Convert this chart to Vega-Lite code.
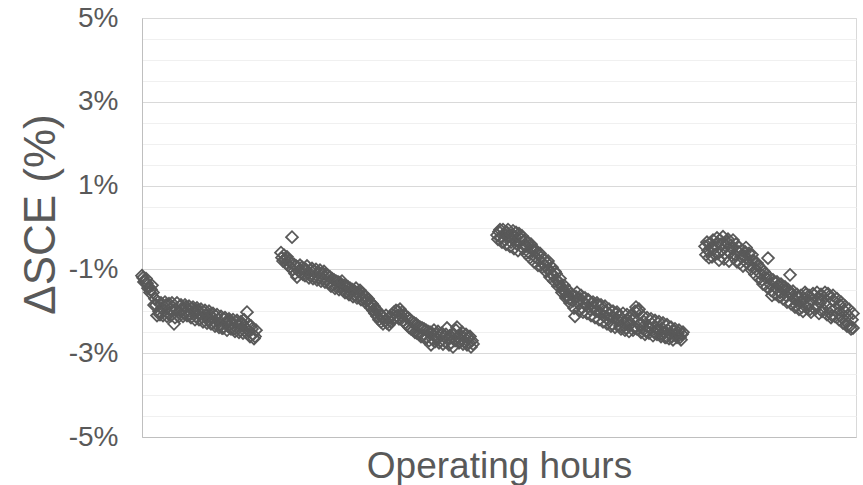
{
  "$schema": "https://vega.github.io/schema/vega-lite/v6.json",
  "autosize": "none",
  "width": 714,
  "height": 419,
  "padding": {"left": 142, "top": 18, "right": 7, "bottom": 48},
  "background": "white",
  "config": {"view": {"stroke": "#d9d9d9"}, "font": "Liberation Sans"},
  "data": {"values": [
    {"h":0,"v":-1.15},{"h":1,"v":-1.2},{"h":3,"v":-1.28},{"h":5,"v":-1.33},{"h":7,"v":-1.42},{"h":9,"v":-1.48},{"h":11,"v":-1.55},{"h":13,"v":-1.7},{"h":14,"v":-1.85},{"h":16,"v":-1.78},{"h":17,"v":-2.0},{"h":18,"v":-2.08},{"h":20,"v":-1.92},{"h":22,"v":-1.98},{"h":24,"v":-1.85},{"h":26,"v":-2.05},{"h":28,"v":-1.95},{"h":30,"v":-1.8},{"h":32,"v":-2.3},{"h":34,"v":-1.95},{"h":36,"v":-2.02},{"h":38,"v":-1.88},{"h":40,"v":-1.98},{"h":42,"v":-2.05},{"h":44,"v":-1.9},{"h":46,"v":-1.97},{"h":48,"v":-2.08},{"h":50,"v":-1.93},{"h":52,"v":-2.0},{"h":54,"v":-2.12},{"h":56,"v":-1.98},{"h":58,"v":-2.05},{"h":60,"v":-2.15},{"h":62,"v":-2.02},{"h":64,"v":-2.1},{"h":66,"v":-2.2},{"h":68,"v":-2.08},{"h":70,"v":-2.15},{"h":72,"v":-2.25},{"h":74,"v":-2.12},{"h":76,"v":-2.2},{"h":78,"v":-2.3},{"h":80,"v":-2.4},{"h":82,"v":-2.18},{"h":84,"v":-2.28},{"h":86,"v":-2.35},{"h":88,"v":-2.22},{"h":90,"v":-2.3},{"h":92,"v":-2.42},{"h":94,"v":-2.25},{"h":96,"v":-2.33},{"h":98,"v":-2.45},{"h":100,"v":-2.3},{"h":103,"v":-2.38},{"h":105,"v":-2.02},{"h":107,"v":-2.48},{"h":109,"v":-2.35},{"h":111,"v":-2.55},{"h":113,"v":-2.6},{"h":114,"v":-2.45},
    {"h":2,"v":-1.3},{"h":4,"v":-1.22},{"h":6,"v":-1.45},{"h":8,"v":-1.55},{"h":10,"v":-1.38},{"h":12,"v":-1.85},{"h":15,"v":-2.1},{"h":19,"v":-1.8},{"h":21,"v":-2.1},{"h":23,"v":-1.78},{"h":25,"v":-2.12},{"h":27,"v":-1.82},{"h":29,"v":-2.1},{"h":31,"v":-1.9},{"h":33,"v":-2.15},{"h":35,"v":-1.8},{"h":37,"v":-2.12},{"h":39,"v":-1.85},{"h":41,"v":-2.12},{"h":43,"v":-1.85},{"h":45,"v":-2.1},{"h":47,"v":-1.88},{"h":49,"v":-2.15},{"h":51,"v":-1.9},{"h":53,"v":-2.2},{"h":55,"v":-1.92},{"h":57,"v":-2.2},{"h":59,"v":-1.95},{"h":61,"v":-2.25},{"h":63,"v":-1.98},{"h":65,"v":-2.28},{"h":67,"v":-2.0},{"h":69,"v":-2.3},{"h":71,"v":-2.05},{"h":73,"v":-2.35},{"h":75,"v":-2.08},{"h":77,"v":-2.38},{"h":79,"v":-2.12},{"h":81,"v":-2.4},{"h":83,"v":-2.15},{"h":85,"v":-2.45},{"h":87,"v":-2.18},{"h":89,"v":-2.42},{"h":91,"v":-2.2},{"h":93,"v":-2.48},{"h":95,"v":-2.22},{"h":97,"v":-2.5},{"h":99,"v":-2.25},{"h":101,"v":-2.52},{"h":102,"v":-2.2},{"h":104,"v":-2.5},{"h":106,"v":-2.3},{"h":108,"v":-2.6},{"h":110,"v":-2.42},{"h":112,"v":-2.65},
    {"h":139,"v":-0.6},{"h":140,"v":-0.72},{"h":141,"v":-0.8},{"h":142,"v":-0.66},{"h":143,"v":-0.75},{"h":144,"v":-0.85},{"h":145,"v":-0.7},{"h":146,"v":-0.9},{"h":147,"v":-0.78},{"h":148,"v":-0.95},{"h":149,"v":-0.85},{"h":150,"v":-0.23},{"h":151,"v":-1.0},{"h":152,"v":-0.88},{"h":153,"v":-1.1},{"h":154,"v":-0.92},{"h":155,"v":-1.18},{"h":156,"v":-0.95},{"h":157,"v":-1.05},{"h":158,"v":-0.9},{"h":159,"v":-1.08},{"h":160,"v":-0.95},{"h":161,"v":-1.12},{"h":162,"v":-0.98},{"h":163,"v":-1.15},{"h":164,"v":-1.0},{"h":165,"v":-0.92},{"h":166,"v":-1.1},{"h":167,"v":-1.2},{"h":168,"v":-1.02},{"h":169,"v":-1.15},{"h":170,"v":-0.98},{"h":171,"v":-1.22},{"h":172,"v":-1.05},{"h":173,"v":-1.18},{"h":174,"v":-1.0},{"h":175,"v":-1.25},{"h":176,"v":-1.08},{"h":177,"v":-1.2},{"h":178,"v":-1.02},{"h":179,"v":-1.28},{"h":180,"v":-1.1},{"h":181,"v":-1.22},{"h":182,"v":-1.05},{"h":183,"v":-1.3},{"h":184,"v":-1.12},{"h":185,"v":-1.25},{"h":186,"v":-1.15},{"h":187,"v":-1.32},{"h":188,"v":-1.18},{"h":189,"v":-1.4},{"h":190,"v":-1.22},{"h":191,"v":-1.35},{"h":192,"v":-1.25},{"h":193,"v":-1.45},{"h":194,"v":-1.28},{"h":195,"v":-1.38},{"h":196,"v":-1.3},{"h":197,"v":-1.48},{"h":198,"v":-1.32},{"h":199,"v":-1.42},{"h":200,"v":-1.28},{"h":201,"v":-1.5},{"h":202,"v":-1.38},{"h":203,"v":-1.55},{"h":204,"v":-1.4},{"h":205,"v":-1.52},{"h":206,"v":-1.42},{"h":207,"v":-1.6},{"h":208,"v":-1.45},{"h":209,"v":-1.55},{"h":210,"v":-1.48},{"h":211,"v":-1.65},{"h":212,"v":-1.5},{"h":213,"v":-1.6},{"h":214,"v":-1.45},{"h":215,"v":-1.68},{"h":216,"v":-1.55},{"h":217,"v":-1.62},{"h":218,"v":-1.5},{"h":219,"v":-1.72},{"h":220,"v":-1.58},{"h":221,"v":-1.68},{"h":222,"v":-1.62},{"h":223,"v":-1.78},{"h":224,"v":-1.65},{"h":225,"v":-1.75},{"h":226,"v":-1.7},{"h":227,"v":-1.85},{"h":228,"v":-1.78},{"h":229,"v":-1.92},{"h":230,"v":-1.82},{"h":231,"v":-1.98},{"h":232,"v":-1.88},{"h":233,"v":-2.05},{"h":234,"v":-1.95},{"h":235,"v":-2.12},{"h":236,"v":-2.0},{"h":237,"v":-2.2},{"h":238,"v":-2.08},{"h":239,"v":-2.25},{"h":240,"v":-2.12},{"h":241,"v":-2.3},{"h":242,"v":-2.15},{"h":243,"v":-2.22},{"h":244,"v":-2.1},{"h":245,"v":-2.28},{"h":246,"v":-2.18},{"h":247,"v":-2.32},{"h":248,"v":-2.15},{"h":249,"v":-2.25},{"h":250,"v":-2.08},{"h":251,"v":-2.2},{"h":252,"v":-2.02},{"h":253,"v":-2.15},{"h":254,"v":-1.98},{"h":255,"v":-2.12},{"h":256,"v":-2.0},{"h":257,"v":-2.18},{"h":258,"v":-1.95},{"h":259,"v":-2.1},{"h":260,"v":-2.02},{"h":261,"v":-2.22},{"h":262,"v":-2.08},{"h":263,"v":-2.28},{"h":264,"v":-2.12},{"h":265,"v":-2.32},{"h":266,"v":-2.15},{"h":267,"v":-2.38},{"h":268,"v":-2.2},{"h":269,"v":-2.42},{"h":270,"v":-2.25},{"h":271,"v":-2.45},{"h":272,"v":-2.28},{"h":273,"v":-2.5},{"h":274,"v":-2.3},{"h":275,"v":-2.52},{"h":276,"v":-2.35},{"h":277,"v":-2.55},{"h":278,"v":-2.38},{"h":279,"v":-2.6},{"h":280,"v":-2.4},{"h":281,"v":-2.58},{"h":282,"v":-2.42},{"h":283,"v":-2.65},{"h":284,"v":-2.45},{"h":285,"v":-2.62},{"h":286,"v":-2.48},{"h":287,"v":-2.7},{"h":288,"v":-2.5},{"h":289,"v":-2.8},{"h":290,"v":-2.52},{"h":291,"v":-2.68},{"h":292,"v":-2.45},{"h":293,"v":-2.72},{"h":294,"v":-2.55},{"h":295,"v":-2.65},{"h":296,"v":-2.48},{"h":297,"v":-2.75},{"h":298,"v":-2.58},{"h":299,"v":-2.7},{"h":300,"v":-2.52},{"h":301,"v":-2.78},{"h":302,"v":-2.6},{"h":303,"v":-2.72},{"h":304,"v":-2.55},{"h":305,"v":-2.4},{"h":306,"v":-2.62},{"h":307,"v":-2.8},{"h":308,"v":-2.58},{"h":309,"v":-2.75},{"h":310,"v":-2.62},{"h":311,"v":-2.85},{"h":312,"v":-2.55},{"h":313,"v":-2.7},{"h":314,"v":-2.45},{"h":315,"v":-2.38},{"h":316,"v":-2.6},{"h":317,"v":-2.75},{"h":318,"v":-2.58},{"h":319,"v":-2.68},{"h":320,"v":-2.5},{"h":321,"v":-2.78},{"h":322,"v":-2.62},{"h":323,"v":-2.72},{"h":324,"v":-2.55},{"h":325,"v":-2.8},{"h":326,"v":-2.65},{"h":327,"v":-2.75},{"h":328,"v":-2.6},{"h":329,"v":-2.85},{"h":330,"v":-2.7},{"h":331,"v":-2.78},
    {"h":355,"v":-0.18},{"h":357,"v":-0.1},{"h":359,"v":-0.25},{"h":361,"v":-0.05},{"h":363,"v":-0.3},{"h":365,"v":-0.12},{"h":367,"v":-0.2},{"h":369,"v":-0.35},{"h":371,"v":-0.08},{"h":373,"v":-0.22},{"h":375,"v":-0.4},{"h":377,"v":-0.15},{"h":379,"v":-0.28},{"h":381,"v":-0.5},{"h":383,"v":-0.32},{"h":385,"v":-0.45},{"h":387,"v":-0.6},{"h":389,"v":-0.4},{"h":391,"v":-0.55},{"h":393,"v":-0.7},{"h":395,"v":-0.62},{"h":397,"v":-0.78},{"h":399,"v":-0.7},{"h":401,"v":-0.85},{"h":403,"v":-0.92},{"h":405,"v":-0.85},{"h":407,"v":-1.0},{"h":409,"v":-1.08},{"h":411,"v":-1.15},{"h":413,"v":-1.05},{"h":415,"v":-1.25},{"h":417,"v":-1.32},{"h":419,"v":-1.4},{"h":421,"v":-1.48},{"h":423,"v":-1.55},{"h":425,"v":-1.62},{"h":427,"v":-1.7},{"h":429,"v":-1.58},{"h":431,"v":-1.75},{"h":433,"v":-2.12},{"h":434,"v":-1.65},{"h":436,"v":-1.8},{"h":438,"v":-1.7},{"h":440,"v":-1.92},{"h":442,"v":-1.78},{"h":444,"v":-1.85},{"h":446,"v":-1.72},{"h":448,"v":-1.95},{"h":450,"v":-1.82},{"h":452,"v":-1.9},{"h":454,"v":-2.0},{"h":456,"v":-1.85},{"h":458,"v":-2.05},{"h":460,"v":-1.95},{"h":462,"v":-2.12},{"h":464,"v":-2.0},{"h":466,"v":-2.2},{"h":468,"v":-2.08},{"h":470,"v":-2.3},{"h":472,"v":-2.15},{"h":474,"v":-2.05},{"h":476,"v":-2.22},{"h":478,"v":-2.35},{"h":480,"v":-2.18},{"h":482,"v":-2.28},{"h":484,"v":-2.4},{"h":486,"v":-2.22},{"h":488,"v":-2.32},{"h":490,"v":-2.2},{"h":492,"v":-2.38},{"h":494,"v":-1.9},{"h":496,"v":-2.0},{"h":498,"v":-2.3},{"h":500,"v":-2.4},{"h":502,"v":-2.25},{"h":504,"v":-2.48},{"h":506,"v":-2.35},{"h":508,"v":-2.42},{"h":510,"v":-2.3},{"h":512,"v":-2.5},{"h":514,"v":-2.38},{"h":516,"v":-2.45},{"h":518,"v":-2.55},{"h":520,"v":-2.4},{"h":522,"v":-2.5},{"h":524,"v":-2.62},{"h":526,"v":-2.45},{"h":528,"v":-2.55},{"h":530,"v":-2.6},{"h":532,"v":-2.48},{"h":534,"v":-2.58},{"h":536,"v":-2.52},{"h":538,"v":-2.62},{"h":540,"v":-2.55},
    {"h":356,"v":-0.28},{"h":358,"v":-0.05},{"h":360,"v":-0.35},{"h":362,"v":-0.15},{"h":364,"v":-0.4},{"h":366,"v":-0.05},{"h":368,"v":-0.45},{"h":370,"v":-0.18},{"h":372,"v":-0.5},{"h":374,"v":-0.12},{"h":376,"v":-0.55},{"h":378,"v":-0.25},{"h":380,"v":-0.2},{"h":382,"v":-0.42},{"h":384,"v":-0.62},{"h":386,"v":-0.35},{"h":388,"v":-0.72},{"h":390,"v":-0.48},{"h":392,"v":-0.82},{"h":394,"v":-0.55},{"h":396,"v":-0.9},{"h":398,"v":-0.62},{"h":400,"v":-0.95},{"h":402,"v":-0.75},{"h":404,"v":-1.05},{"h":406,"v":-0.8},{"h":408,"v":-1.18},{"h":410,"v":-0.95},{"h":412,"v":-1.28},{"h":414,"v":-1.1},{"h":416,"v":-1.4},{"h":418,"v":-1.22},{"h":420,"v":-1.55},{"h":422,"v":-1.38},{"h":424,"v":-1.68},{"h":426,"v":-1.5},{"h":428,"v":-1.8},{"h":430,"v":-1.62},{"h":432,"v":-1.92},{"h":435,"v":-1.55},{"h":437,"v":-1.98},{"h":439,"v":-1.62},{"h":441,"v":-2.02},{"h":443,"v":-1.68},{"h":445,"v":-2.05},{"h":447,"v":-1.75},{"h":449,"v":-2.1},{"h":451,"v":-1.78},{"h":453,"v":-2.15},{"h":455,"v":-1.8},{"h":457,"v":-2.2},{"h":459,"v":-1.85},{"h":461,"v":-2.25},{"h":463,"v":-1.88},{"h":465,"v":-2.3},{"h":467,"v":-1.95},{"h":469,"v":-2.35},{"h":471,"v":-2.0},{"h":473,"v":-2.38},{"h":475,"v":-2.02},{"h":477,"v":-2.1},{"h":479,"v":-2.42},{"h":481,"v":-2.05},{"h":483,"v":-2.45},{"h":485,"v":-2.08},{"h":487,"v":-2.48},{"h":489,"v":-2.1},{"h":491,"v":-2.45},{"h":493,"v":-2.0},{"h":495,"v":-2.42},{"h":497,"v":-1.95},{"h":499,"v":-2.5},{"h":501,"v":-2.12},{"h":503,"v":-2.55},{"h":505,"v":-2.15},{"h":507,"v":-2.52},{"h":509,"v":-2.18},{"h":511,"v":-2.58},{"h":513,"v":-2.22},{"h":515,"v":-2.55},{"h":517,"v":-2.25},{"h":519,"v":-2.6},{"h":521,"v":-2.28},{"h":523,"v":-2.62},{"h":525,"v":-2.32},{"h":527,"v":-2.65},{"h":529,"v":-2.38},{"h":531,"v":-2.68},{"h":533,"v":-2.42},{"h":535,"v":-2.62},{"h":537,"v":-2.45},{"h":539,"v":-2.68},{"h":541,"v":-2.5},
    {"h":563,"v":-0.45},{"h":564,"v":-0.65},{"h":566,"v":-0.55},{"h":568,"v":-0.38},{"h":570,"v":-0.7},{"h":572,"v":-0.5},{"h":574,"v":-0.42},{"h":576,"v":-0.62},{"h":578,"v":-0.3},{"h":580,"v":-0.55},{"h":582,"v":-0.75},{"h":584,"v":-0.45},{"h":586,"v":-0.28},{"h":588,"v":-0.6},{"h":590,"v":-0.5},{"h":592,"v":-0.72},{"h":594,"v":-0.4},{"h":596,"v":-0.58},{"h":598,"v":-0.85},{"h":600,"v":-0.55},{"h":602,"v":-0.68},{"h":604,"v":-0.48},{"h":606,"v":-0.75},{"h":608,"v":-0.9},{"h":610,"v":-0.65},{"h":612,"v":-0.82},{"h":614,"v":-1.0},{"h":616,"v":-0.9},{"h":618,"v":-1.1},{"h":620,"v":-1.25},{"h":622,"v":-1.05},{"h":624,"v":-1.2},{"h":626,"v":-0.73},{"h":628,"v":-1.35},{"h":630,"v":-1.62},{"h":632,"v":-1.3},{"h":634,"v":-1.45},{"h":636,"v":-1.38},{"h":638,"v":-1.55},{"h":640,"v":-1.4},{"h":642,"v":-1.5},{"h":644,"v":-1.62},{"h":646,"v":-1.48},{"h":648,"v":-1.13},{"h":650,"v":-1.58},{"h":652,"v":-1.7},{"h":654,"v":-1.85},{"h":656,"v":-1.65},{"h":658,"v":-1.78},{"h":660,"v":-1.9},{"h":662,"v":-1.72},{"h":664,"v":-1.6},{"h":666,"v":-1.82},{"h":668,"v":-1.95},{"h":670,"v":-1.75},{"h":672,"v":-1.62},{"h":674,"v":-1.88},{"h":676,"v":-1.7},{"h":678,"v":-1.8},{"h":680,"v":-2.0},{"h":682,"v":-1.68},{"h":684,"v":-1.85},{"h":686,"v":-1.58},{"h":688,"v":-1.95},{"h":690,"v":-2.1},{"h":692,"v":-1.75},{"h":694,"v":-1.92},{"h":696,"v":-2.05},{"h":698,"v":-1.85},{"h":700,"v":-2.15},{"h":702,"v":-1.98},{"h":704,"v":-2.25},{"h":706,"v":-2.1},{"h":708,"v":-2.35},{"h":710,"v":-2.2},{"h":711,"v":-2.4},
    {"h":565,"v":-0.35},{"h":567,"v":-0.72},{"h":569,"v":-0.48},{"h":571,"v":-0.3},{"h":573,"v":-0.65},{"h":575,"v":-0.25},{"h":577,"v":-0.78},{"h":579,"v":-0.4},{"h":581,"v":-0.22},{"h":583,"v":-0.62},{"h":585,"v":-0.35},{"h":587,"v":-0.8},{"h":589,"v":-0.42},{"h":591,"v":-0.3},{"h":593,"v":-0.65},{"h":595,"v":-0.82},{"h":597,"v":-0.48},{"h":599,"v":-0.7},{"h":601,"v":-0.92},{"h":603,"v":-0.58},{"h":605,"v":-0.85},{"h":607,"v":-0.62},{"h":609,"v":-1.0},{"h":611,"v":-0.78},{"h":613,"v":-1.12},{"h":615,"v":-0.85},{"h":617,"v":-1.22},{"h":619,"v":-0.98},{"h":621,"v":-1.35},{"h":623,"v":-1.1},{"h":625,"v":-1.42},{"h":627,"v":-1.18},{"h":629,"v":-1.5},{"h":631,"v":-1.25},{"h":633,"v":-1.58},{"h":635,"v":-1.3},{"h":637,"v":-1.65},{"h":639,"v":-1.35},{"h":641,"v":-1.7},{"h":643,"v":-1.42},{"h":645,"v":-1.78},{"h":647,"v":-1.55},{"h":649,"v":-1.82},{"h":651,"v":-1.52},{"h":653,"v":-1.9},{"h":655,"v":-1.6},{"h":657,"v":-1.95},{"h":659,"v":-1.62},{"h":661,"v":-2.0},{"h":663,"v":-1.55},{"h":665,"v":-1.92},{"h":667,"v":-1.62},{"h":669,"v":-2.02},{"h":671,"v":-1.58},{"h":673,"v":-1.95},{"h":675,"v":-1.55},{"h":677,"v":-2.05},{"h":679,"v":-1.6},{"h":681,"v":-1.95},{"h":683,"v":-1.55},{"h":685,"v":-2.08},{"h":687,"v":-1.65},{"h":689,"v":-2.15},{"h":691,"v":-1.62},{"h":693,"v":-2.12},{"h":695,"v":-1.7},{"h":697,"v":-2.2},{"h":699,"v":-1.78},{"h":701,"v":-2.28},{"h":703,"v":-1.88},{"h":705,"v":-2.35},{"h":707,"v":-1.95},{"h":709,"v":-2.42},{"h":711,"v":-2.05}
  ]},
  "mark": {"type": "point", "shape": "diamond", "filled": false, "stroke": "#595959", "strokeWidth": 1.8, "size": 140, "opacity": 1},
  "encoding": {
    "x": {"field": "h", "type": "quantitative", "scale": {"domain": [0, 714], "nice": false},
      "axis": {"labels": false, "ticks": false, "grid": false, "domainColor": "#bfbfbf", "title": "Operating hours", "titleFontSize": 37, "titleFontWeight": "normal", "titleColor": "#595959", "titleBaseline": "alphabetic", "titleY": 40}},
    "y": {"field": "v", "type": "quantitative", "scale": {"domain": [-5, 5], "nice": false},
      "axis": {"values": [-5,-4.5,-4,-3.5,-3,-2.5,-2,-1.5,-1,-0.5,0,0.5,1,1.5,2,2.5,3,3.5,4,4.5,5],
        "labelExpr": "abs(datum.value % 2) == 1 ? datum.value + '%' : ''",
        "labelOverlap": false, "ticks": false, "domainColor": "#bfbfbf",
        "gridColor": {"condition": {"test": "abs(datum.value % 2) == 1", "value": "#d9d9d9"}, "value": "#f0f0f0"},
        "labelFontSize": 28, "labelColor": "#595959", "labelPadding": 24,
        "title": "ΔSCE (%)", "titleFontSize": 44, "titleFontWeight": "normal", "titleColor": "#595959",
        "titleX": -101, "titleY": 196, "titleBaseline": "middle", "titleAngle": 270}}
  }
}
